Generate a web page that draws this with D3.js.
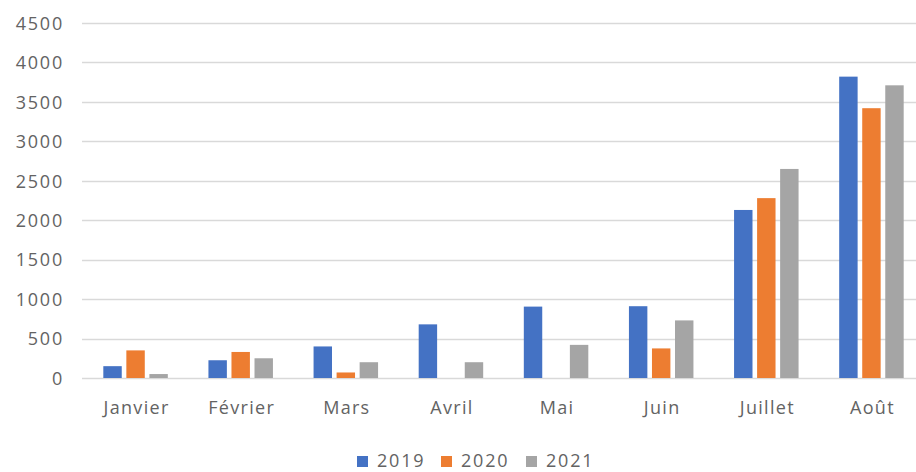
<!DOCTYPE html>
<html><head><meta charset="utf-8">
<script src="https://cdn.jsdelivr.net/npm/d3@7"></script>
<style>
html,body{margin:0;padding:0;background:#fff;}
svg text{font-family:"Open Sans",sans-serif;fill:#595959;}
</style></head>
<body>
<svg id="chart" width="916" height="472"></svg>
<script>
const categories = ["Janvier","Février","Mars","Avril","Mai","Juin","Juillet","Août"];
const seriesNames = ["2019","2020","2021"];
const values2019 = [150, 225, 400, 680, 905, 910, 2130, 3820];
const values2020 = [350, 330, 70, 0, 0, 375, 2280, 3420];
const values2021 = [50, 250, 200, 200, 420, 730, 2650, 3710];
const yTicks = [0,500,1000,1500,2000,2500,3000,3500,4000,4500];
const colors = ["#4472C4","#ED7D31","#A5A5A5"];

(function(){
const series = [values2019, values2020, values2021];
const svg = d3.select("#chart");
const mLeft = 83, mRight = 924, mTop = 23, mBottom = 378;
const fontCss = "'Open Sans',sans-serif";

const x0 = d3.scaleBand().domain(categories).range([mLeft, mRight]).padding(0);
const x1 = d3.scaleBand().domain(seriesNames).range([0, 64.5]).paddingInner(0.2).paddingOuter(0);
const y = d3.scaleLinear().domain([0,4500]).range([mBottom, mTop]);

svg.append("g").selectAll("line").data(yTicks).join("line")
  .attr("x1", 82).attr("x2", 916)
  .attr("y1", d => Math.round(y(d))+0.5).attr("y2", d => Math.round(y(d))+0.5)
  .attr("stroke", "#D9D9D9").attr("stroke-width", 1.3);

const yAxis = d3.axisLeft(y).tickValues(yTicks).tickFormat(d3.format("d")).tickSize(0).tickPadding(0);
const yg = svg.append("g").attr("transform", "translate(64,0)").call(yAxis);
yg.select(".domain").remove();
yg.selectAll("text").style("font-size","18px").style("letter-spacing","1.8px").attr("dy","0.35em")
  .style("fill","#636363").style("font-family",fontCss);

const groupW = 64.5;
const groups = svg.append("g").selectAll("g").data(categories).join("g")
  .attr("transform", c => `translate(${x0(c) + (x0.bandwidth()-groupW)/2},0)`);
groups.selectAll("rect").data((c,i) => seriesNames.map((s,j) => ({s, v: series[j][i], j})))
  .join("rect")
  .attr("x", d => x1(d.s))
  .attr("width", x1.bandwidth())
  .attr("y", d => y(d.v))
  .attr("height", d => y(0) - y(d.v))
  .attr("fill", d => colors[d.j]);

const xAxis = d3.axisBottom(x0).tickSize(0).tickPadding(0);
const xg = svg.append("g").attr("transform", `translate(1,${mBottom+30})`).call(xAxis);
xg.select(".domain").remove();
xg.selectAll("text").style("font-size","18px").style("letter-spacing","1.3px").attr("dy","0.35em")
  .style("fill","#636363").style("font-family",fontCss);

const legendX = [357, 441, 526];
const lg = svg.append("g").selectAll("g").data(seriesNames).join("g")
  .attr("transform", (d,i) => `translate(${legendX[i]},461)`);
lg.append("rect").attr("x",0).attr("y",-5).attr("width",11).attr("height",11).attr("fill",(d,i)=>colors[i]);
lg.append("text").attr("x",20).attr("dy","0.35em").style("font-size","18px").style("letter-spacing","1.8px")
  .style("fill","#636363").style("font-family",fontCss).text(d=>d);
})();
</script>
</body></html>
